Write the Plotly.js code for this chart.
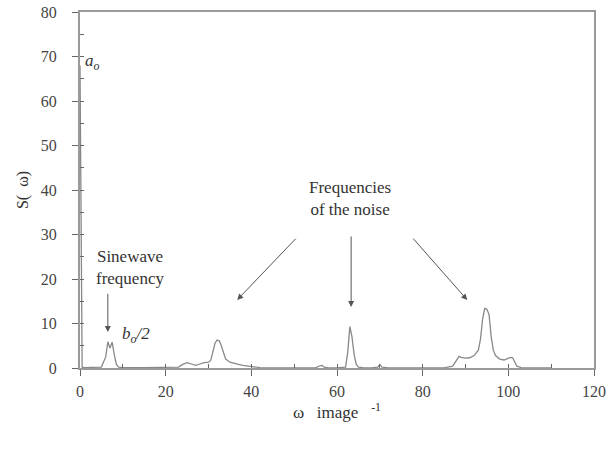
<!DOCTYPE html>
<html><head><meta charset="utf-8">
<script src="https://cdn.plot.ly/plotly-3.0.1.min.js"></script>
<style>body{margin:0;background:#fff}#c{width:614px;height:449px}</style>
</head><body><div id="c"></div>
<script>
const omega = [0, 0.5, 1, 3, 5, 6, 6.5, 7, 7.5, 8, 8.5, 9, 10, 15, 20, 23, 24, 25, 26, 27, 28, 29, 30, 30.5, 31, 31.5, 32, 32.5, 33, 33.5, 34, 35, 36, 37, 38, 40, 42, 45, 50, 55, 56, 56.5, 57, 58, 60, 62, 62.5, 63, 63.5, 64, 64.5, 65, 66, 68, 69.5, 70, 70.5, 72, 75, 80, 85, 87, 88, 88.5, 89, 90, 91, 92, 93, 93.5, 94, 94.5, 95, 95.5, 96, 96.5, 97, 98, 99, 100, 100.5, 101, 101.5, 102, 103, 105, 110];
const spectrum = [68, 0.2, 0.1, 0.1, 0.2, 2.5, 5.9, 4.5, 5.8, 3, 0.8, 0.2, 0.1, 0.1, 0.1, 0.2, 0.8, 1.2, 0.9, 0.6, 0.9, 1.2, 1.3, 1.7, 3.5, 5.5, 6.3, 6.1, 5, 3.2, 2, 1.3, 1, 0.8, 0.6, 0.4, 0.1, 0.05, 0.05, 0.05, 0.5, 0.6, 0.2, 0.05, 0.05, 0.2, 3.5, 9.3, 7, 3, 0.8, 0.2, 0.1, 0.05, 0.2, 0.8, 0.2, 0.05, 0.05, 0.05, 0.05, 0.4, 1.7, 2.6, 2.4, 2.2, 2.3, 2.8, 4, 6.5, 11, 13.4, 13.2, 12, 7, 4, 2.8, 2, 1.8, 2.2, 2.4, 2.3, 1.2, 0.4, 0.1, 0.05, 0.05];

const serif = "Liberation Serif, DejaVu Serif, serif";
const axisCol = "#9a9a9a";
const txtCol = "#333";

const trace = {x: omega, y: spectrum, type: "scatter", mode: "lines",
  line: {color: "#888", width: 1.3}, hoverinfo: "skip", showlegend: false, cliponaxis: false};
const dummy = {x: [0], y: [0], xaxis: "x2", yaxis: "y2", mode: "none", showlegend: false, hoverinfo: "skip"};

const arrowCommon = {showarrow: true, arrowhead: 2, arrowsize: 1.2, arrowwidth: 1,
  arrowcolor: "#555", axref: "x", ayref: "y", text: ""};
const annFont = {family: serif, size: 17, color: txtCol, weight: "normal"};

const layout = {
  width: 614, height: 449,
  margin: {l: 80, r: 20, t: 12, b: 81},
  paper_bgcolor: "#fff", plot_bgcolor: "#fff",
  font: {family: serif, color: txtCol, size: 17},
  xaxis: {range: [0, 120], dtick: 20, tick0: 0, ticks: "outside", ticklen: 6, tickcolor: "#666",
    showline: true, mirror: true, linecolor: axisCol, linewidth: 2, showgrid: false, zeroline: false,
    layer: "below traces", ticklabelstandoff: 2,
    tickfont: {family: serif, size: 16, color: "#444"},
    title: {text: "ω&nbsp;&nbsp; image &nbsp;&nbsp;<sup>-1</sup>", standoff: 0, font: {family: serif, size: 17, color: txtCol}}},
  yaxis: {range: [0, 80], dtick: 10, tick0: 0, ticks: "outside", ticklen: 6, tickcolor: "#666",
    showline: true, mirror: true, linecolor: axisCol, linewidth: 2, showgrid: false, zeroline: false,
    layer: "below traces", ticklabelstandoff: 12,
    tickfont: {family: serif, size: 16, color: "#444"},
    title: {text: "S(&nbsp; ω)", standoff: 8, font: {family: serif, size: 16, color: txtCol}}},
  xaxis2: {overlaying: "x", matches: "x", range: [0, 120], dtick: 10, ticks: "inside", ticklen: 4,
    tickcolor: "#666", showticklabels: false, showgrid: false, zeroline: false, showline: false},
  yaxis2: {overlaying: "y", matches: "y", range: [0, 80], dtick: 5, ticks: "inside", ticklen: 4,
    tickcolor: "#666", showticklabels: false, showgrid: false, zeroline: false, showline: false},
  annotations: [
    {x: 0.8, y: 68.8, text: "<i>a<sub>o</sub></i>", showarrow: false, xanchor: "left", yanchor: "middle", font: annFont},
    {x: 9.3, y: 7.4, text: "<i>b<sub>o</sub>/2</i>", showarrow: false, xanchor: "left", yanchor: "middle", font: annFont},
    {x: 11.7, y: 22.5, text: "Sinewave<br>frequency", showarrow: false, xanchor: "center", yanchor: "middle", font: annFont},
    {x: 63, y: 38.2, text: "Frequencies<br>of the noise", showarrow: false, xanchor: "center", yanchor: "middle", font: annFont},
    Object.assign({x: 6.5, y: 8.1, ax: 6.5, ay: 17}, arrowCommon),
    Object.assign({x: 36.7, y: 15.3, ax: 50.7, ay: 29.4}, arrowCommon),
    Object.assign({x: 63.3, y: 13.7, ax: 63.3, ay: 29.9}, arrowCommon),
    Object.assign({x: 90.4, y: 15.3, ax: 77.5, ay: 29.4}, arrowCommon)
  ]
};
Plotly.newPlot("c", [trace, dummy], layout, {staticPlot: true, displayModeBar: false});
</script></body></html>
